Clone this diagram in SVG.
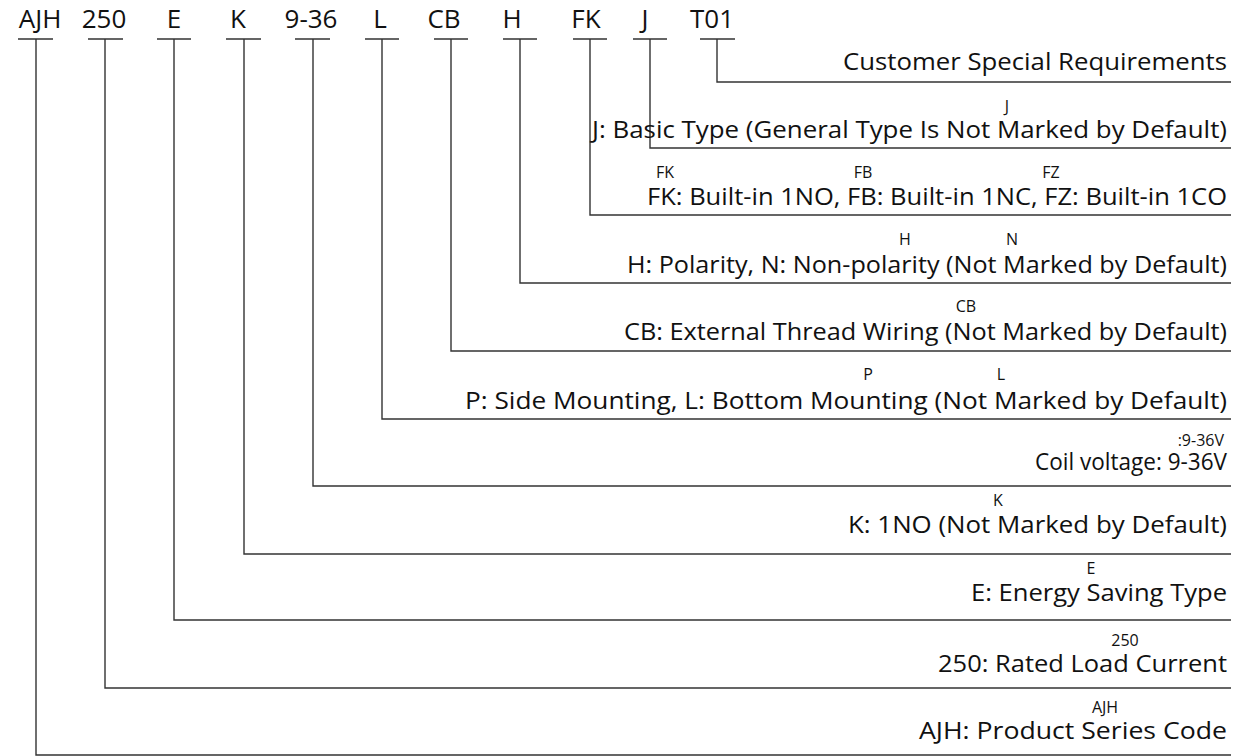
<svg xmlns="http://www.w3.org/2000/svg" width="1243" height="756" viewBox="0 0 1243 756">
<style>
.hd{font-family:"Open Sans","Liberation Sans",sans-serif;font-size:26px;fill:#111;text-anchor:middle}
.tx{font-family:"Open Sans","Liberation Sans",sans-serif;font-size:23px;fill:#111}
.sm{font-family:"Open Sans","Liberation Sans",sans-serif;font-size:16px;fill:#111;text-anchor:middle}
.ln{stroke:#333;stroke-width:1.4;fill:none}
</style>
<rect width="1243" height="756" fill="#fff"/>
<g id="header">
<text class="hd" x="40" y="28">AJH</text>
<text class="hd" x="104" y="28">250</text>
<text class="hd" x="174" y="28">E</text>
<text class="hd" x="238" y="28">K</text>
<text class="hd" x="311" y="28">9-36</text>
<text class="hd" x="380" y="28">L</text>
<text class="hd" x="444" y="28">CB</text>
<text class="hd" x="512" y="28">H</text>
<text class="hd" x="586" y="28">FK</text>
<text class="hd" x="645" y="28">J</text>
<text class="hd" x="712" y="28">T01</text>
</g>
<g id="connectors" class="ln">
<path d="M18 39H53M36 39V755H1231"/>
<path d="M88 39H123M105 39V688H1231"/>
<path d="M157 39H191M174 39V620H1231"/>
<path d="M226 39H261M244 39V554H1231"/>
<path d="M295 39H330M313 39V486H1231"/>
<path d="M365 39H399M382 39V419H1231"/>
<path d="M434 39H468M451 39V351H1231"/>
<path d="M503 39H537M520 39V283H1231"/>
<path d="M573 39H607M590 39V215H1231"/>
<path d="M633 39H667M650 39V148H1231"/>
<path d="M700 39H735M717 39V82H1231"/>
</g>
<g id="t01"><text class="tx" x="843" y="70" textLength="384" lengthAdjust="spacingAndGlyphs">Customer Special Requirements</text></g>
<g id="j"><text class="sm" x="1007" y="112">J</text><text class="tx" x="592" y="138" textLength="635" lengthAdjust="spacingAndGlyphs">J: Basic Type (General Type Is Not Marked by Default)</text></g>
<g id="fk"><text class="sm" x="665" y="178">FK</text><text class="sm" x="863" y="178">FB</text><text class="sm" x="1051" y="178">FZ</text><text class="tx" x="647" y="205" textLength="580" lengthAdjust="spacingAndGlyphs">FK: Built-in 1NO, FB: Built-in 1NC, FZ: Built-in 1CO</text></g>
<g id="h"><text class="sm" x="905" y="245">H</text><text class="sm" x="1012" y="245">N</text><text class="tx" x="627" y="273" textLength="600" lengthAdjust="spacingAndGlyphs">H: Polarity, N: Non-polarity (Not Marked by Default)</text></g>
<g id="cb"><text class="sm" x="966" y="312">CB</text><text class="tx" x="624" y="340" textLength="603" lengthAdjust="spacingAndGlyphs">CB: External Thread Wiring (Not Marked by Default)</text></g>
<g id="l"><text class="sm" x="868" y="380">P</text><text class="sm" x="1001" y="380">L</text><text class="tx" x="465" y="409" textLength="762" lengthAdjust="spacingAndGlyphs">P: Side Mounting, L: Bottom Mounting (Not Marked by Default)</text></g>
<g id="v"><text class="sm" x="1224" y="446" style="text-anchor:end">:9-36V</text><text class="tx" x="1035" y="470" textLength="192" lengthAdjust="spacingAndGlyphs">Coil voltage: 9-36V</text></g>
<g id="k"><text class="sm" x="998" y="506">K</text><text class="tx" x="848" y="533" textLength="379" lengthAdjust="spacingAndGlyphs">K: 1NO (Not Marked by Default)</text></g>
<g id="e"><text class="sm" x="1091" y="574">E</text><text class="tx" x="971" y="601" textLength="256" lengthAdjust="spacingAndGlyphs">E: Energy Saving Type</text></g>
<g id="c250"><text class="sm" x="1125" y="646">250</text><text class="tx" x="938" y="672" textLength="289" lengthAdjust="spacingAndGlyphs">250: Rated Load Current</text></g>
<g id="ajh"><text class="sm" x="1105" y="713">AJH</text><text class="tx" x="919" y="739" textLength="308" lengthAdjust="spacingAndGlyphs">AJH: Product Series Code</text></g>
</svg>
